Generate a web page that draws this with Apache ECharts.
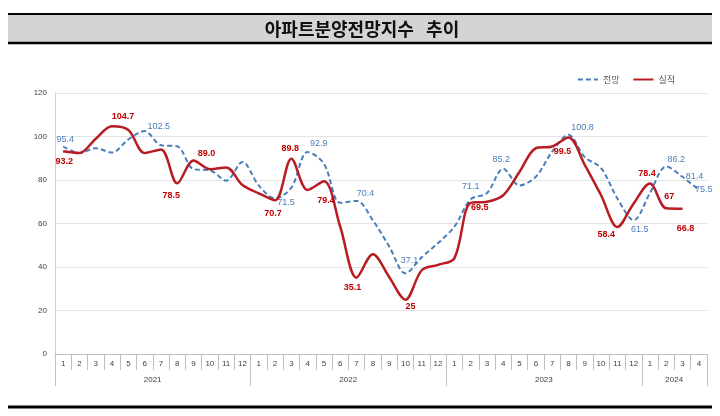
<!DOCTYPE html>
<html>
<head>
<meta charset="utf-8">
<script src="https://cdn.jsdelivr.net/npm/echarts@6/dist/echarts.min.js"></script>
<style>
html,body{margin:0;padding:0;background:#fff;}
#c{width:720px;height:416px;}
</style>
</head>
<body>
<div id="c"></div>
<script>
// ---- data ----
const years = ['2021', '2022', '2023', '2024'];
const monthsPerYear = [12, 12, 12, 4];
const months = ['1','2','3','4','5','6','7','8','9','10','11','12',
                '1','2','3','4','5','6','7','8','9','10','11','12',
                '1','2','3','4','5','6','7','8','9','10','11','12',
                '1','2','3','4'];
const yTicks = [0, 20, 40, 60, 80, 100, 120];
const seriesNames = ['전망', '실적'];
// 전망 (outlook)
const outlook = [95.4, 92.4, 94.6, 92.6, 98.7, 102.5, 96.0, 95.5, 85.0, 84.5, 79.7, 88.3,
                 77.5, 71.5, 76.5, 92.9, 87.5, 69.5, 70.4, 61.5, 49.5, 37.1, 44.5, 51.0,
                 58.5, 71.1, 74.0, 85.2, 77.5, 81.5, 93.0, 100.8, 90.5, 85.5, 71.5, 61.5,
                 74.0, 86.2, 81.4, 75.5];
// 실적 (actual)
const actual = [93.2, 92.4, 99.0, 104.7, 103.0, 92.4, 94.0, 78.5, 89.0, 85.0, 85.8, 77.7,
                73.9, 70.7, 89.8, 75.4, 79.4, 58.5, 35.1, 45.9, 35.4, 25, 38.5, 41.0,
                44.0, 69.5, 70.0, 73.0, 83.8, 94.6, 95.4, 99.5, 87.0, 73.0, 58.4, 69.2,
                78.4, 67, 66.8];
const labelledOutlook = [0, 5, 13, 15, 18, 21, 25, 27, 31, 35, 37, 38, 39];
const labelledActual = [0, 3, 7, 8, 13, 14, 16, 18, 21, 25, 31, 34, 36, 37, 38];
const actualLabelText = {8: '89.0'};

// ---- label placement (style only) ----
const outlookOffsets = {0:[2,-7],5:[14,-5],13:[11,4],15:[11,-8],18:[9,-7],21:[4,-13],25:[0,-13],
  27:[-2,-9],31:[14,-7],35:[6,9],37:[10,-7],38:[12,0],39:[5,0]};
const actualOffsets = {0:[1,10],3:[11,-10],7:[-6,12],8:[13,-7],13:[-2,13],14:[-1,-10],16:[2,19],
  18:[-4,10],21:[5,7],25:[9,5],31:[-6,14],34:[-11,8],36:[-3,-10],37:[3,-12],38:[3,20]};

const BLUE = '#4a7ebb';
const RED = '#b81d24';
const NUMFONT = '"Liberation Sans Narrow","Liberation Sans","Noto Sans",sans-serif';
const KFONT = '"Noto Sans CJK KR","Noto Sans",sans-serif';

function buildData(values, labelled, offsets, color, bold, texts) {
  return values.map((v, i) => {
    const item = {value: v};
    if (labelled.indexOf(i) >= 0) {
      item.label = {
        show: true, position: 'inside', offset: offsets[i],
        color: color, fontSize: 9, fontWeight: bold ? 'bold' : 'normal',
        fontFamily: NUMFONT,
        formatter: (texts && texts[i]) ? texts[i] : String(v)
      };
    }
    return item;
  });
}

// year label index: middle of each year's span
const yearStart = [];
let acc = 0;
monthsPerYear.forEach(n => { yearStart.push(acc); acc += n; });
const yearLabelIdx = {};
monthsPerYear.forEach((n, k) => { yearLabelIdx[yearStart[k] + n / 2 - 1] = years[k]; });

const chart = echarts.init(document.getElementById('c'), null, {renderer: 'canvas'});
chart.setOption({
  animation: false,
  backgroundColor: '#fff',
  grid: {left: 55, right: 13, top: 93, bottom: 62, containLabel: false},
  legend: {
    data: seriesNames, right: 40, top: 70, itemWidth: 20, itemHeight: 8, itemGap: 13,
    textStyle: {fontSize: 9, color: '#595959', fontFamily: KFONT},
    itemStyle: {opacity: 0}
  },
  graphic: [
    {type: 'rect', shape: {x: 8, y: 14, width: 704, height: 29}, style: {fill: '#d4d4d4'}, silent: true},
    {type: 'line', shape: {x1: 8, y1: 14, x2: 712, y2: 14}, style: {stroke: '#000', lineWidth: 2}, silent: true},
    {type: 'line', shape: {x1: 8, y1: 43, x2: 712, y2: 43}, style: {stroke: '#000', lineWidth: 2.5}, silent: true},
    {type: 'text', x: 362, y: 29, style: {text: '아파트분양전망지수   추이', font: 'bold 18px "Noto Sans CJK KR", sans-serif',
      fill: '#111', textAlign: 'center', textVerticalAlign: 'middle'}, silent: true},
    {type: 'line', shape: {x1: 8, y1: 407, x2: 712, y2: 407}, style: {stroke: '#000', lineWidth: 3}, silent: true}
  ],
  xAxis: [
    {
      type: 'category', data: months, boundaryGap: true, position: 'bottom',
      axisLine: {show: true, lineStyle: {color: '#bfbfbf', width: 1}},
      axisTick: {show: true, interval: 0, length: 16, lineStyle: {color: '#bfbfbf'}},
      axisLabel: {interval: 0, fontSize: 8, color: '#404040', margin: 6, fontFamily: NUMFONT},
      splitLine: {show: false}
    },
    {
      type: 'category', data: months, boundaryGap: true, position: 'bottom', offset: 0,
      axisLine: {show: false},
      axisTick: {show: true, length: 32, lineStyle: {color: '#bfbfbf'},
        interval: (idx) => yearStart.indexOf(idx) >= 0},
      axisLabel: {
        interval: (idx) => yearLabelIdx[idx] !== undefined,
        formatter: (val, idx) => yearLabelIdx[idx] || '',
        fontSize: 8, color: '#404040', margin: 22, padding: [0, 0, 0, 16], fontFamily: NUMFONT
      },
      splitLine: {show: false}
    }
  ],
  yAxis: {
    type: 'value', min: yTicks[0], max: yTicks[yTicks.length - 1], interval: 20,
    axisLine: {show: true, lineStyle: {color: '#d0d0d0'}},
    axisTick: {show: false},
    axisLabel: {fontSize: 8, color: '#404040', margin: 8, fontFamily: NUMFONT},
    splitLine: {lineStyle: {color: '#e4e4e4', width: 1}}
  },
  series: [
    {
      name: seriesNames[0], type: 'line', smooth: 0.33, xAxisIndex: 0,
      data: buildData(outlook, labelledOutlook, outlookOffsets, BLUE, false),
      symbol: 'circle', symbolSize: 0.1, showSymbol: true, showAllSymbol: true,
      itemStyle: {color: 'rgba(0,0,0,0)', borderWidth: 0},
      lineStyle: {color: BLUE, width: 2, type: [5, 3]},
      emphasis: {disabled: true}, z: 2
    },
    {
      name: seriesNames[1], type: 'line', smooth: 0.33, xAxisIndex: 0,
      data: buildData(actual, labelledActual, actualOffsets, '#c00000', true, actualLabelText),
      symbol: 'circle', symbolSize: 0.1, showSymbol: true, showAllSymbol: true,
      itemStyle: {color: 'rgba(0,0,0,0)', borderWidth: 0},
      lineStyle: {color: RED, width: 2.5},
      emphasis: {disabled: true}, z: 3
    }
  ]
});
</script>
</body>
</html>
